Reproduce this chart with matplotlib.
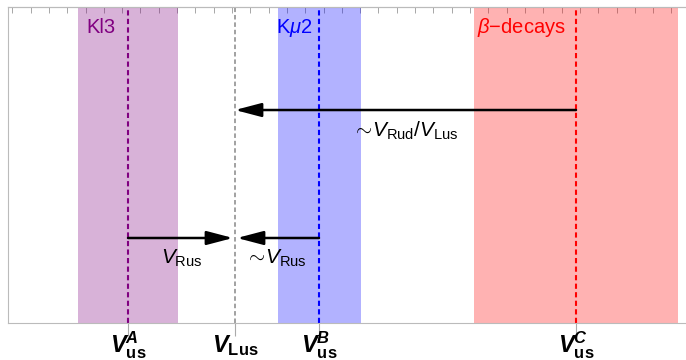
import matplotlib
matplotlib.use('Agg')
import matplotlib.pyplot as plt
import numpy as np

plt.rcParams['font.family'] = 'Liberation Sans'
plt.rcParams['mathtext.fontset'] = 'custom'
plt.rcParams['mathtext.rm'] = 'Liberation Sans'
plt.rcParams['mathtext.it'] = 'Liberation Sans:italic'
plt.rcParams['mathtext.bf'] = 'Liberation Sans:bold'
plt.rcParams['mathtext.bfit'] = 'Liberation Sans:italic:bold'

# x positions (arbitrary units)
x_min, x_max = 0, 678
v_pos = [120, 227, 311, 568]
v_labels = [r'$\mathbfit{V}_{\mathbf{us}}^{\mathbfit{A}}$',
            r'$\mathbfit{V}_{\mathbf{Lus}}$',
            r'$\mathbfit{V}_{\mathbf{us}}^{\mathbfit{B}}$',
            r'$\mathbfit{V}_{\mathbf{us}}^{\mathbfit{C}}$']
v_colors = ['purple', 'gray', 'blue', 'red']

# bands (start, end), names, colours
band_lo = [70, 270, 466]
band_hi = [170, 353, 670]
band_names = ['Kl3', r'K$\mu$2', r'$\beta$$-$decays']
band_colors = ['purple', 'blue', 'red']

# arrows: (start, end, height)
arr_start = [568, 120, 311]
arr_end = [227, 225, 229]
arr_y = [0.674, 0.269, 0.269]

arr_text = [r'$\sim\!V_{\rm Rud}/V_{\rm Lus}$', r'$V_{\rm Rus}$', r'$\sim\!V_{\rm Rus}$']

# label placement
name_x = [107, 305, 558]
text_x = [397, 174, 268]
text_y = [0.608, 0.206, 0.206]

fig = plt.figure(figsize=(6.86, 3.6), dpi=100)
ax = fig.add_axes([8/686, 37/360, 678/686, 316/360])

for lo, hi, c in zip(band_lo, band_hi, band_colors):
    ax.axvspan(lo, hi, color=c, alpha=0.3, lw=0)

for x, c in zip(v_pos, v_colors):
    ax.axvline(x, color=c, ls=(0, (2.5, 1.6)), lw=1.5 if c != 'gray' else 1.3,
               alpha=1 if c != 'gray' else 0.8)

for name, x, c in zip(band_names, name_x, band_colors):
    ax.text(x, 0.935, name, color=c, fontsize=14.5, ha='right', va='center')

for s, e, y in zip(arr_start, arr_end, arr_y):
    ax.annotate('', xy=(e, y), xytext=(s, y),
                arrowprops=dict(arrowstyle='-|>,head_length=1.6,head_width=0.42',
                                mutation_scale=10, color='black', lw=1.8,
                                shrinkA=0, shrinkB=0))

for t, x, y in zip(arr_text, text_x, text_y):
    ax.text(x, y, t, fontsize=15, ha='center', va='center')

ax.set_xlim(x_min, x_max)
ax.set_ylim(0, 1)
ax.set_yticks([])
ax.set_xticks(v_pos)
ax.set_xticklabels([])
ax.tick_params(axis='x', direction='out', length=9, width=0.8, color='#aaaaaa')

# bottom labels placed on a common baseline
for x, lab in zip(v_pos, v_labels):
    ax.text(x, -0.092, lab, fontsize=17, ha='center', va='baseline',
            transform=ax.get_xaxis_transform())

top = ax.secondary_xaxis('top')
top.set_xticks(4.3 + 18.31 * np.arange(37))
top.set_xticklabels([])
top.tick_params(direction='in', length=4, width=0.6, color='#999999')
top.spines['top'].set_color('#bbbbbb')

for side in ['left', 'bottom', 'top']:
    ax.spines[side].set_color('#bbbbbb')
ax.spines['right'].set_visible(False)

fig.savefig('out.png', dpi=100)
